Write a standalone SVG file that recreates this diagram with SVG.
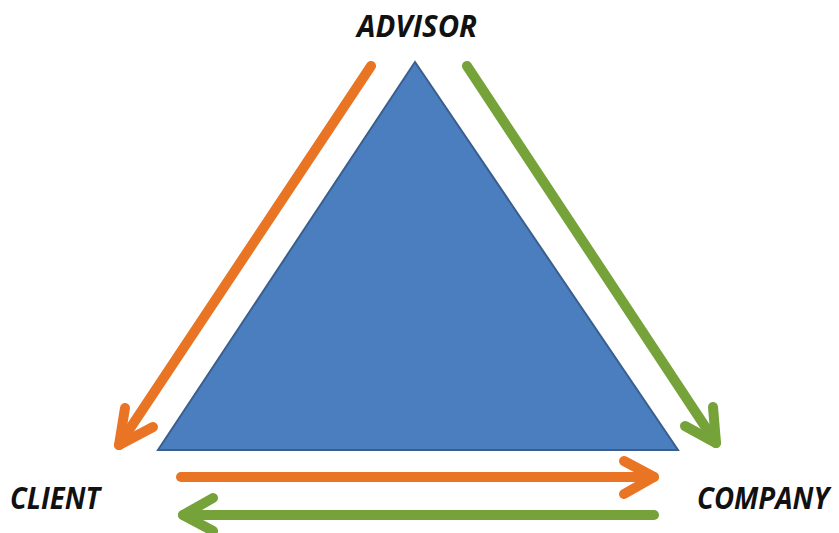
<svg xmlns="http://www.w3.org/2000/svg" width="839" height="533" viewBox="0 0 839 533">
  <style>
    .label { font-family: "Open Sans", "Liberation Sans", sans-serif; font-weight: bold; font-style: italic; font-size: 30px; fill: #111111; }
    .flow { fill: none; stroke-width: 10; stroke-linecap: round; stroke-linejoin: round; }
    .orange { stroke: #E87424; }
    .green { stroke: #76A23A; }
  </style>
  <rect width="839" height="533" fill="#ffffff"/>

  <g id="triangle">
    <polygon points="415,62 158,450 678,450" fill="#4A7EBE" stroke="#3A5F8E" stroke-width="2"/>
  </g>

  <g id="advisor">
    <text class="label" x="417" y="37" text-anchor="middle" textLength="120" lengthAdjust="spacingAndGlyphs">ADVISOR</text>
  </g>
  <g id="client">
    <text class="label" x="10" y="509" textLength="90" lengthAdjust="spacingAndGlyphs">CLIENT</text>
  </g>
  <g id="company">
    <text class="label" x="697" y="509" textLength="132" lengthAdjust="spacingAndGlyphs">COMPANY</text>
  </g>

  <g id="connectors">
    <!-- advisor to client -->
    <line class="flow orange" x1="371" y1="66" x2="119" y2="445"/>
    <polyline class="flow orange" points="125,408 119,445 153,427"/>
    <!-- advisor to company -->
    <line class="flow green" x1="467" y1="66" x2="716" y2="443"/>
    <polyline class="flow green" points="713,407 716,443 685,426"/>
    <!-- client to company -->
    <line class="flow orange" x1="181" y1="477" x2="654" y2="477"/>
    <polyline class="flow orange" points="624,461 654,477 624,494"/>
    <!-- company to client -->
    <line class="flow green" x1="654" y1="515" x2="183" y2="515"/>
    <polyline class="flow green" points="213,498 183,515 213,531"/>
  </g>
</svg>
